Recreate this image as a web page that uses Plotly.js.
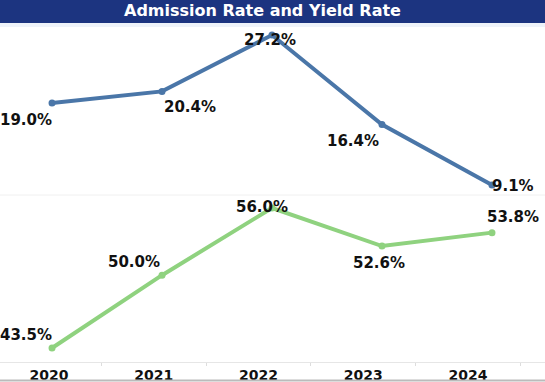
<!DOCTYPE html>
<html>
<head>
<meta charset="utf-8">
<script src="https://cdn.plot.ly/plotly-3.0.1.min.js"></script>
<style>html,body{margin:0;padding:0;background:#fff;}#chart{width:545px;height:382px;}</style>
</head>
<body>
<div id="chart"></div>
<script>
var years = ["2020", "2021", "2022", "2023", "2024"];
var admissionRate = [19.0, 20.4, 27.2, 16.4, 9.1];
var yieldRate = [43.5, 50.0, 56.0, 52.6, 53.8];
var admissionLabels = ["19.0%", "20.4%", "27.2%", "16.4%", "9.1%"];
var yieldLabels = ["43.5%", "50.0%", "56.0%", "52.6%", "53.8%"];

var admShift = [[-26, -17], [28, -16], [-2, -5], [-29, -16], [21, -1]];
var yldShift = [[-26, 13], [-28, 13], [-10, 1], [-3, -17], [21, 16]];

var labelFont = {family: "DejaVu Sans, Verdana, sans-serif", size: 15, color: "#111111", weight: "bold"};
var annotations = [];
for (var i = 0; i < years.length; i++) {
  annotations.push({x: i, y: admissionRate[i], xref: "x", yref: "y", text: admissionLabels[i],
    showarrow: false, xshift: admShift[i][0], yshift: admShift[i][1], font: labelFont});
  annotations.push({x: i, y: yieldRate[i], xref: "x", yref: "y2", text: yieldLabels[i],
    showarrow: false, xshift: yldShift[i][0], yshift: yldShift[i][1], font: labelFont});
}
annotations.push({xref: "paper", yref: "paper", x: 0.5, y: 1, yanchor: "top", yshift: 1, xshift: -10,
  text: "Admission Rate and Yield Rate", showarrow: false,
  font: {family: "DejaVu Sans, Verdana, sans-serif", size: 16, color: "#ffffff", weight: "bold"}});

var xIdx = years.map(function (_, i) { return i; });

var traces = [
  {x: xIdx, y: admissionRate, xaxis: "x", yaxis: "y", type: "scatter", mode: "lines+markers",
   line: {color: "#4a76a8", width: 4}, marker: {color: "#4a76a8", size: 7}, hoverinfo: "skip"},
  {x: xIdx, y: yieldRate, xaxis: "x", yaxis: "y2", type: "scatter", mode: "lines+markers",
   line: {color: "#8fd27f", width: 4}, marker: {color: "#8fd27f", size: 7}, hoverinfo: "skip"},
  {x: years, y: [null, null, null, null, null], xaxis: "x2", yaxis: "y2", type: "scatter", mode: "markers",
   showlegend: false, hoverinfo: "skip"}
];

var H = 382;
var layout = {
  width: 545, height: 382,
  margin: {l: 0, r: 0, t: 0, b: 0},
  paper_bgcolor: "#ffffff", plot_bgcolor: "rgba(0,0,0,0)",
  showlegend: false,
  xaxis: {range: [-0.473, 4.482], showticklabels: false, showgrid: false, zeroline: false, showline: false, ticks: "", anchor: "y2"},
  xaxis2: {type: "category", range: [-0.468, 4.735], overlaying: "x", anchor: "free", position: (H - 362) / H,
    side: "bottom", showgrid: false, zeroline: false, showline: true, linecolor: "#e6e6e6", linewidth: 1,
    ticks: "outside", tickson: "boundaries", ticklen: 3, tickcolor: "#dddddd",
    tickfont: {family: "DejaVu Sans, Verdana, sans-serif", size: 14, color: "#111111", weight: "bold"}},
  yaxis: {domain: [(H - 195) / H, (H - 24) / H], range: [7.9, 28.53], showticklabels: false, showgrid: false, zeroline: false, showline: false, ticks: ""},
  yaxis2: {domain: [(H - 362) / H, (H - 195) / H], range: [42.25, 57.16], showticklabels: false, showgrid: false, zeroline: false, showline: false, ticks: ""},
  shapes: [
    {type: "rect", xref: "paper", yref: "paper", x0: 0, x1: 1, y0: (H - 23) / H, y1: 1, fillcolor: "#1c3480", line: {width: 0}, layer: "below"},
    {type: "rect", xref: "paper", yref: "paper", x0: 0, x1: 1, y0: (H - 27) / H, y1: (H - 23) / H, fillcolor: "#eef3fa", line: {width: 0}, layer: "below"},
    {type: "line", xref: "paper", yref: "paper", x0: 0, x1: 1, y0: (H - 195) / H, y1: (H - 195) / H, line: {color: "#f0f0f0", width: 1}, layer: "below"},
    {type: "line", xref: "paper", yref: "paper", x0: 0, x1: 1, y0: 1.5 / H, y1: 1.5 / H, line: {color: "#bbbbbb", width: 2}}
  ],
  annotations: annotations
};

Plotly.newPlot("chart", traces, layout, {staticPlot: true, displayModeBar: false});
</script>
</body>
</html>
